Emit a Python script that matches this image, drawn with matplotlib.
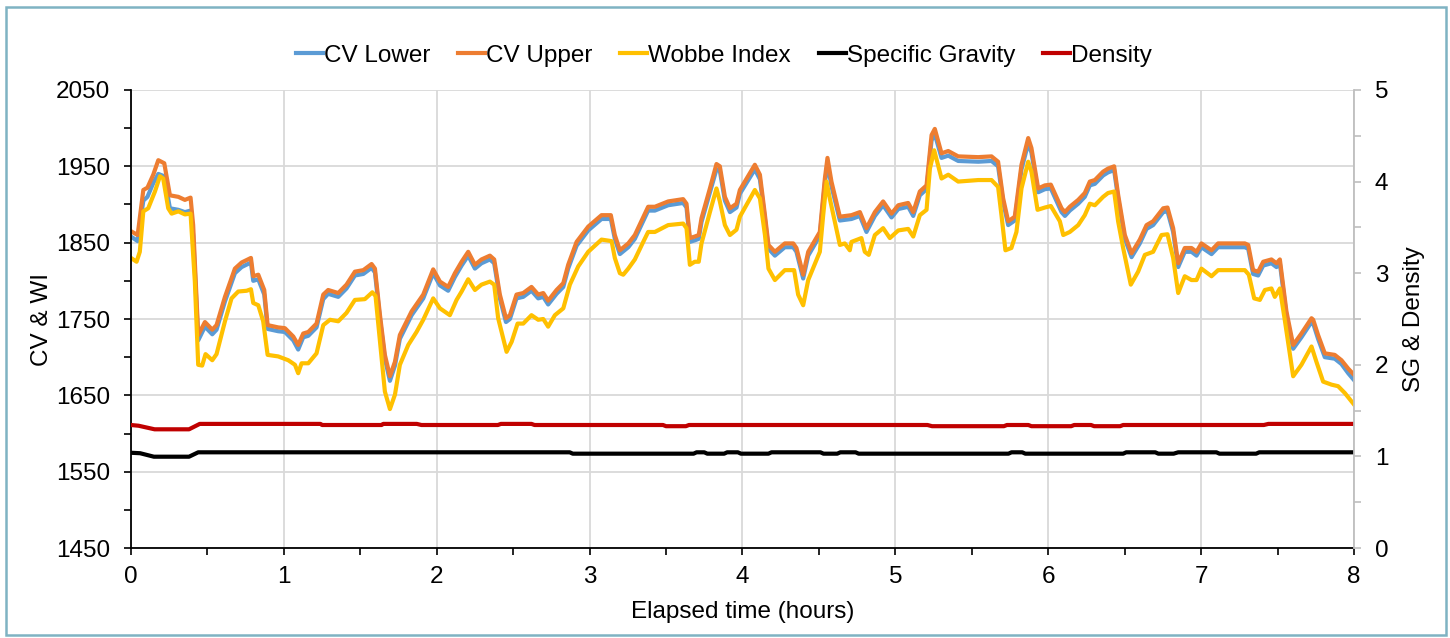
import matplotlib
matplotlib.use("Agg")
import matplotlib.pyplot as plt
from matplotlib.patches import Rectangle
from matplotlib.ticker import MultipleLocator

plt.rcParams['font.family'] = ['Liberation Sans', 'DejaVu Sans']

# CV readings (elapsed hours, MJ/m3-ish units as plotted)
t_cv = [0.0, 0.044, 0.081, 0.108, 0.146, 0.179, 0.218, 0.255, 0.31, 0.353,
        0.39, 0.407, 0.44, 0.484, 0.532, 0.56, 0.615, 0.68, 0.724, 0.785,
        0.8, 0.833, 0.872, 0.894, 0.963, 1.007, 1.062, 1.094, 1.127, 1.16,
        1.214, 1.258, 1.29, 1.356, 1.41, 1.465, 1.52, 1.574, 1.596, 1.629,
        1.661, 1.694, 1.727, 1.759, 1.836, 1.912, 1.977, 2.021, 2.075, 2.119,
        2.163, 2.206, 2.25, 2.293, 2.348, 2.376, 2.413, 2.453, 2.479, 2.522,
        2.566, 2.62, 2.664, 2.697, 2.729, 2.784, 2.828, 2.86, 2.915, 2.991,
        3.078, 3.139, 3.165, 3.198, 3.253, 3.296, 3.383, 3.427, 3.514, 3.612,
        3.634, 3.656, 3.688, 3.714, 3.732, 3.787, 3.83, 3.852, 3.885, 3.918,
        3.961, 3.983, 4.081, 4.114, 4.147, 4.17, 4.212, 4.277, 4.332, 4.353,
        4.397, 4.43, 4.506, 4.539, 4.556, 4.582, 4.637, 4.713, 4.768, 4.811,
        4.866, 4.92, 4.975, 5.019, 5.084, 5.117, 5.16, 5.204, 5.237, 5.258,
        5.302, 5.346, 5.411, 5.542, 5.629, 5.672, 5.705, 5.738, 5.781, 5.825,
        5.869, 5.89, 5.934, 5.978, 6.017, 6.087, 6.109, 6.141, 6.196, 6.239,
        6.272, 6.305, 6.359, 6.391, 6.431, 6.457, 6.501, 6.545, 6.599, 6.643,
        6.686, 6.752, 6.78, 6.817, 6.85, 6.893, 6.937, 6.97, 7.002, 7.068,
        7.111, 7.199, 7.286, 7.308, 7.34, 7.373, 7.406, 7.46, 7.493, 7.515,
        7.558, 7.602, 7.656, 7.722, 7.733, 7.765, 7.809, 7.874, 7.918, 7.962,
        8.0]
cv_upper = [1865, 1860, 1919, 1922, 1939, 1958, 1954, 1912, 1910, 1906,
            1909, 1873, 1729, 1746, 1736, 1742, 1779, 1816, 1824, 1830,
            1806, 1808, 1788, 1742, 1739, 1738, 1727, 1716, 1731, 1733,
            1744, 1782, 1788, 1784, 1795, 1812, 1814, 1822, 1816, 1755,
            1703, 1675, 1694, 1729, 1760, 1782, 1815, 1799, 1792, 1810,
            1825, 1838, 1821, 1828, 1833, 1828, 1782, 1751, 1755, 1782,
            1784, 1792, 1782, 1784, 1774, 1788, 1797, 1821, 1851, 1871,
            1886, 1886, 1860, 1840, 1849, 1860, 1897, 1897, 1904, 1907,
            1901, 1856, 1858, 1860, 1882, 1921, 1953, 1950, 1910, 1895,
            1901, 1919, 1952, 1939, 1886, 1847, 1838, 1849, 1849, 1843,
            1808, 1838, 1864, 1934, 1961, 1930, 1884, 1886, 1890, 1869,
            1890, 1904, 1888, 1899, 1902, 1890, 1917, 1925, 1991, 1999,
            1967, 1970, 1963, 1962, 1963, 1956, 1908, 1878, 1884, 1952,
            1987, 1974, 1921, 1925, 1926, 1895, 1890, 1897, 1906, 1915,
            1930, 1932, 1943, 1947, 1950, 1913, 1860, 1836, 1854, 1873,
            1878, 1895, 1896, 1869, 1823, 1843, 1843, 1838, 1849, 1840,
            1849, 1849, 1849, 1847, 1814, 1812, 1825, 1828, 1823, 1828,
            1760, 1716, 1731, 1751, 1749, 1729, 1705, 1703, 1696, 1685,
            1677]
cv_lower = [1858, 1852, 1905, 1910, 1928, 1940, 1937, 1895, 1893, 1890,
            1892, 1860, 1722, 1740, 1730, 1736, 1773, 1810, 1818, 1824,
            1800, 1802, 1782, 1737, 1734, 1733, 1722, 1710, 1726, 1728,
            1739, 1776, 1783, 1779, 1790, 1807, 1809, 1817, 1811, 1750,
            1698, 1669, 1689, 1724, 1755, 1777, 1810, 1794, 1787, 1805,
            1820, 1833, 1816, 1823, 1828, 1823, 1777, 1746, 1750, 1777,
            1779, 1787, 1777, 1779, 1769, 1783, 1792, 1816, 1846, 1866,
            1881, 1881, 1855, 1835, 1844, 1855, 1892, 1892, 1899, 1902,
            1896, 1851, 1853, 1855, 1877, 1916, 1946, 1944, 1905, 1890,
            1896, 1914, 1946, 1933, 1881, 1842, 1833, 1844, 1844, 1838,
            1803, 1833, 1859, 1928, 1954, 1924, 1879, 1881, 1885, 1864,
            1885, 1899, 1883, 1894, 1897, 1885, 1912, 1920, 1984, 1992,
            1961, 1964, 1957, 1956, 1957, 1950, 1903, 1873, 1879, 1946,
            1980, 1968, 1916, 1920, 1921, 1890, 1885, 1892, 1901, 1910,
            1925, 1927, 1938, 1942, 1945, 1908, 1855, 1831, 1849, 1868,
            1873, 1890, 1891, 1864, 1818, 1838, 1838, 1833, 1844, 1835,
            1844, 1844, 1844, 1842, 1809, 1807, 1820, 1823, 1818, 1823,
            1755, 1711, 1726, 1746, 1744, 1724, 1700, 1698, 1691, 1679,
            1670]

t_wi = [0.0, 0.037, 0.058, 0.081, 0.113, 0.157, 0.19, 0.211, 0.244, 0.266,
        0.31, 0.353, 0.39, 0.418, 0.44, 0.466, 0.488, 0.532, 0.56, 0.615,
        0.658, 0.702, 0.757, 0.785, 0.8, 0.833, 0.865, 0.894, 0.963, 1.029,
        1.073, 1.094, 1.116, 1.16, 1.214, 1.258, 1.302, 1.356, 1.41, 1.465,
        1.53, 1.579, 1.6, 1.629, 1.661, 1.694, 1.727, 1.759, 1.814, 1.868,
        1.912, 1.977, 2.021, 2.086, 2.13, 2.163, 2.206, 2.25, 2.293, 2.348,
        2.376, 2.402, 2.457, 2.49, 2.529, 2.566, 2.62, 2.664, 2.697, 2.729,
        2.773, 2.828, 2.871, 2.926, 2.991, 3.078, 3.144, 3.165, 3.198, 3.22,
        3.253, 3.296, 3.351, 3.383, 3.427, 3.514, 3.612, 3.634, 3.656, 3.688,
        3.714, 3.732, 3.787, 3.83, 3.852, 3.885, 3.918, 3.961, 3.983, 4.081,
        4.114, 4.147, 4.17, 4.212, 4.277, 4.338, 4.364, 4.397, 4.43, 4.506,
        4.528, 4.55, 4.571, 4.637, 4.669, 4.702, 4.713, 4.778, 4.8, 4.826,
        4.866, 4.92, 4.964, 5.019, 5.084, 5.117, 5.16, 5.204, 5.226, 5.254,
        5.302, 5.346, 5.411, 5.542, 5.629, 5.672, 5.694, 5.72, 5.759, 5.792,
        5.825, 5.869, 5.89, 5.93, 5.978, 6.017, 6.076, 6.098, 6.141, 6.196,
        6.239, 6.272, 6.305, 6.359, 6.391, 6.431, 6.457, 6.49, 6.54, 6.588,
        6.632, 6.686, 6.741, 6.78, 6.817, 6.85, 6.893, 6.937, 6.97, 7.002,
        7.068, 7.111, 7.199, 7.286, 7.312, 7.347, 7.384, 7.417, 7.46, 7.482,
        7.515, 7.547, 7.602, 7.656, 7.722, 7.754, 7.798, 7.853, 7.896, 7.94,
        8.0]
wobbe = [1830, 1825, 1838, 1891, 1895, 1917, 1937, 1934, 1895, 1888,
         1891, 1887, 1888, 1799, 1690, 1689, 1704, 1696, 1704, 1747,
         1777, 1786, 1787, 1789, 1771, 1768, 1747, 1703, 1701, 1696,
         1690, 1679, 1692, 1692, 1705, 1742, 1749, 1747, 1758, 1775,
         1776, 1785, 1780, 1720, 1655, 1632, 1651, 1690, 1716, 1733,
         1749, 1777, 1764, 1755, 1775, 1786, 1802, 1788, 1795, 1799,
         1795, 1751, 1707, 1720, 1744, 1744, 1755, 1749, 1750, 1740,
         1755, 1764, 1795, 1819, 1838, 1854, 1852, 1830, 1810, 1808,
         1816, 1828, 1851, 1864, 1864, 1873, 1875, 1869, 1821, 1825,
         1825, 1849, 1890, 1921, 1904, 1873, 1860, 1867, 1884, 1919,
         1908, 1860, 1816, 1801, 1814, 1814, 1782, 1768, 1801, 1838,
         1886, 1930, 1908, 1847, 1849, 1840, 1851, 1856, 1838, 1834,
         1860, 1869, 1856, 1866, 1868, 1858, 1886, 1893, 1947, 1971,
         1934, 1939, 1930, 1932, 1932, 1923, 1886, 1840, 1843, 1864,
         1921, 1956, 1943, 1893, 1896, 1898, 1878, 1860, 1864, 1873,
         1886, 1901, 1899, 1910, 1915, 1917, 1878, 1843, 1795, 1812,
         1834, 1838, 1860, 1861, 1830, 1784, 1806, 1801, 1801, 1816,
         1806, 1814, 1814, 1814, 1808, 1777, 1775, 1788, 1790, 1779,
         1790, 1749, 1675, 1690, 1714, 1694, 1668, 1664, 1662, 1653,
         1638]

t_sg = [0, 0.06, 0.15, 0.38, 0.44, 2.87, 2.89, 3.68, 3.70, 3.75,
        3.77, 3.88, 3.90, 3.97, 3.99, 4.17, 4.19, 4.51, 4.53, 4.62,
        4.64, 4.74, 4.76, 5.74, 5.76, 5.83, 5.85, 6.49, 6.51, 6.70,
        6.72, 6.82, 6.85, 7.10, 7.12, 7.36, 7.38, 8.0]
sg = [1.04, 1.035, 0.997, 0.997, 1.045, 1.045, 1.03, 1.03, 1.045, 1.045,
      1.03, 1.03, 1.045, 1.045, 1.03, 1.03, 1.045, 1.045, 1.03, 1.03,
      1.045, 1.045, 1.03, 1.03, 1.045, 1.045, 1.03, 1.03, 1.045, 1.045,
      1.03, 1.03, 1.045, 1.045, 1.03, 1.03, 1.045, 1.045]

t_den = [0, 0.05, 0.155, 0.38, 0.45, 1.24, 1.25, 1.64, 1.65, 1.87,
         1.9, 2.40, 2.42, 2.62, 2.64, 3.48, 3.50, 3.63, 3.65, 5.21,
         5.24, 5.71, 5.73, 5.87, 5.89, 6.15, 6.17, 6.28, 6.30, 6.47,
         6.49, 7.41, 7.44, 8.0]
density = [1.343, 1.335, 1.296, 1.296, 1.355, 1.355, 1.343, 1.343, 1.355, 1.355,
           1.343, 1.343, 1.355, 1.355, 1.343, 1.343, 1.33, 1.33, 1.343, 1.343,
           1.33, 1.33, 1.343, 1.343, 1.33, 1.33, 1.343, 1.343, 1.33, 1.33,
           1.343, 1.343, 1.355, 1.355]

cv_ticks = [1450, 1550, 1650, 1750, 1850, 1950, 2050]

FS = 17.5
GRID = '#D9D9D9'
RGREY = '#BFBFBF'
LW = 3.0

fig = plt.figure(figsize=(14.5, 6.38), dpi=100)
fig.subplots_adjust(left=0.0903, right=0.9338, top=0.859, bottom=0.141)
ax = fig.add_subplot(111)
ax2 = ax.twinx()

l1, = ax.plot(t_cv, cv_lower, color='#5B9BD5', lw=LW, label='CV Lower')
l2, = ax.plot(t_cv, cv_upper, color='#ED7D31', lw=LW, label='CV Upper')
l3, = ax.plot(t_wi, wobbe, color='#FFC000', lw=LW, label='Wobbe Index')
l4, = ax2.plot(t_sg, sg, color='black', lw=LW, label='Specific Gravity')
l5, = ax2.plot(t_den, density, color='#C00000', lw=LW, label='Density')

ax.set_xlim(0, 8)
ax.set_ylim(1450, 2050)
ax2.set_ylim(0, 5)
ax.xaxis.set_major_locator(MultipleLocator(1))
ax.xaxis.set_minor_locator(MultipleLocator(0.5))
ax.set_yticks(cv_ticks)
ax.set_yticks([v + 50 for v in cv_ticks[:-1]], minor=True)
ax2.yaxis.set_major_locator(MultipleLocator(1))
ax2.yaxis.set_minor_locator(MultipleLocator(0.5))

ax.grid(True, which='major', color=GRID, lw=1.3)
ax.set_axisbelow(True)
for s in ['top', 'right']:
    ax.spines[s].set_visible(False)
for s in ['left', 'bottom']:
    ax.spines[s].set_color('black')
    ax.spines[s].set_linewidth(1.3)
for s in ['top', 'left', 'bottom']:
    ax2.spines[s].set_visible(False)
ax2.spines['right'].set_color(RGREY)
ax2.spines['right'].set_linewidth(1.3)

ax.tick_params(axis='both', which='both', direction='out', length=5, width=1.2,
               color='black', labelsize=FS)
ax.tick_params(axis='y', which='major', pad=10)
ax.tick_params(axis='x', which='major', pad=8)
ax2.tick_params(axis='y', which='both', direction='out', length=5, width=1.2,
                color=RGREY, labelsize=FS, pad=10)

ax.set_xlabel('Elapsed time (hours)', fontsize=FS)
ax.xaxis.set_label_coords(0.5, -0.115)
ax.set_ylabel('CV & WI', fontsize=FS)
ax.yaxis.set_label_coords(-0.064, 0.5)
ax2.set_ylabel('SG & Density', fontsize=FS)
ax2.yaxis.set_label_coords(1.04, 0.5)

fig.legend(handles=[l1, l2, l3, l4, l5], loc='center', bbox_to_anchor=(0.4993, 0.913),
           ncol=5, frameon=False, fontsize=FS, handlelength=1.1, handletextpad=0.05,
           columnspacing=1.15)

fig.patches.append(Rectangle((6 / 1450, 3 / 638), 1440 / 1450, 628 / 638,
                             transform=fig.transFigure, fill=False,
                             edgecolor='#7FB3C3', lw=1.8))

fig.savefig('out.png', dpi=100)
